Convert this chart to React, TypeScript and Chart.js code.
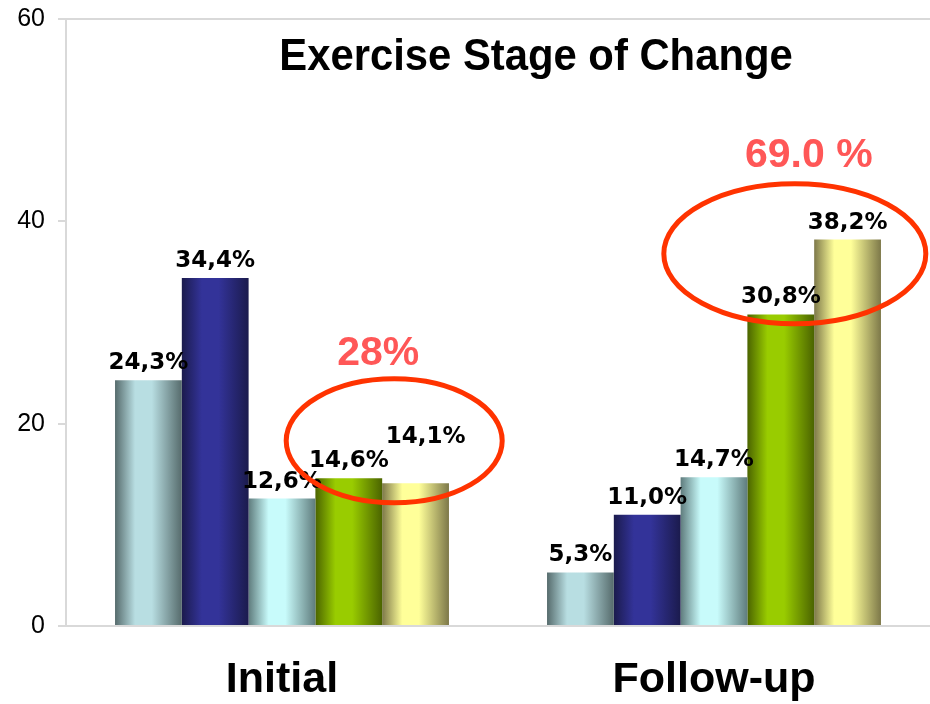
import React, { useEffect, useRef } from "react";
import { Chart, registerables } from "chart.js";

Chart.register(...registerables);

// Survey waves on the category axis
const categories = ["Initial", "Follow-up"];

// One series per stage of change (percent of respondents)
const stageNames = ["Precontemplation", "Contemplation", "Preparation", "Action", "Maintenance"];
const precontemplation = [24.3, 5.3];
const contemplation = [34.4, 11.0];
const preparation = [12.6, 14.7];
const action = [14.6, 30.8];
const maintenance = [14.1, 38.2];

// Y axis ticks
const yTicks = [0, 20, 40, 60];

// Highlighted totals (action + maintenance) written above the circled bars
const highlightTexts = ["28%", "69.0 %"];

const TITLE = "Exercise Stage of Change";

// Cylinder-like shading: [edge colour, highlight colour] for each series
const seriesShades: [string, string][] = [
  ["#566b6c", "#b8dee2"],
  ["#1b1b4d", "#333399"],
  ["#5f7c7d", "#c8fbfb"],
  ["#4b6400", "#99cc00"],
  ["#7d7849", "#ffff99"],
];

const CAT_PCT = 0.773;
const AXIS_GREY = "#d9d9d9";
const HIGHLIGHT_RED = "#ff5757";
const RING_RED = "#ff3300";

function barGradient(c: any, shade: [string, string]) {
  const chart = c.chart;
  const xs = chart.scales && chart.scales.x;
  if (c.type !== "data" || !xs || !chart.chartArea) return shade[1];
  const n = chart.data.datasets.length;
  const catW = xs.width / chart.data.labels.length;
  const bw = (catW * CAT_PCT) / n;
  const center = xs.getPixelForValue(c.dataIndex);
  const left = center - (catW * CAT_PCT) / 2 + c.datasetIndex * bw;
  const g = chart.ctx.createLinearGradient(left, 0, left + bw, 0);
  g.addColorStop(0, shade[0]);
  g.addColorStop(0.3, shade[1]);
  g.addColorStop(0.55, shade[1]);
  g.addColorStop(1, shade[0]);
  return g;
}

const fmt = (v: number) => v.toFixed(1).replace(".", ",") + "%";

// The one value label that is lifted to clear its neighbour
const liftedLabel = { dataset: 4, index: 0, dx: 10, dy: 29 };

const overlayPlugin = {
  id: "stageOverlay",
  afterDatasetsDraw(chart: any) {
    const ctx = chart.ctx;
    ctx.save();
    ctx.font = "bold 23px 'DejaVu Sans', sans-serif";
    ctx.fillStyle = "#000";
    ctx.textAlign = "center";
    ctx.textBaseline = "alphabetic";
    chart.data.datasets.forEach((ds: any, di: number) => {
      const meta = chart.getDatasetMeta(di);
      meta.data.forEach((el: any, i: number) => {
        let dx = 0;
        let dy = 0;
        if (di === liftedLabel.dataset && i === liftedLabel.index) {
          dx = liftedLabel.dx;
          dy = liftedLabel.dy;
        }
        ctx.fillText(fmt(ds.data[i]), el.x + dx, el.y - 11 - dy);
      });
    });
    ctx.restore();
  },
  afterDraw(chart: any) {
    const ctx = chart.ctx;
    const xs = chart.scales.x;
    const ys = chart.scales.y;
    const n = chart.data.datasets.length;
    const catW = xs.width / chart.data.labels.length;
    const bw = (catW * CAT_PCT) / n;

    // Title
    ctx.save();
    ctx.fillStyle = "#000";
    ctx.font = "bold 44px 'Liberation Sans', Arial, sans-serif";
    ctx.textAlign = "center";
    ctx.textBaseline = "alphabetic";
    ctx.translate(536, 70);
    ctx.scale(0.95, 1);
    ctx.fillText(TITLE, 0, 0);
    ctx.restore();

    // Rings around action + maintenance, with their totals
    const rings = [
      { cat: 0, off: 1.68, val: 18.3, rx: 108, ry: 62, textOff: 1.44, textVal: 25.8 },
      { cat: 1, off: 1.21, val: 36.8, rx: 131, ry: 70, textOff: 1.42, textVal: 45.4 },
    ];
    rings.forEach((r, k) => {
      const cx = xs.getPixelForValue(r.cat) + r.off * bw;
      const cy = ys.getPixelForValue(r.val);
      ctx.save();
      ctx.strokeStyle = RING_RED;
      ctx.lineWidth = 5;
      ctx.beginPath();
      ctx.ellipse(cx, cy, r.rx, r.ry, 0, 0, Math.PI * 2);
      ctx.stroke();
      ctx.fillStyle = HIGHLIGHT_RED;
      ctx.font = "bold 41px 'Liberation Sans', Arial, sans-serif";
      ctx.textAlign = "center";
      ctx.textBaseline = "alphabetic";
      ctx.fillText(
        highlightTexts[k],
        xs.getPixelForValue(r.cat) + r.textOff * bw,
        ys.getPixelForValue(r.textVal)
      );
      ctx.restore();
    });
  },
};

export default function App() {
  const canvasRef = useRef<HTMLCanvasElement | null>(null);

  useEffect(() => {
    const canvas = canvasRef.current;
    if (!canvas) return;
    const series = [precontemplation, contemplation, preparation, action, maintenance];
    const chart = new Chart(canvas, {
      type: "bar",
      data: {
        labels: categories,
        datasets: series.map((values, i) => ({
          label: stageNames[i],
          data: values,
          backgroundColor: (c: any) => barGradient(c, seriesShades[i]),
          borderWidth: 0,
          barPercentage: 1,
          categoryPercentage: CAT_PCT,
        })),
      },
      options: {
        responsive: false,
        animation: false,
        layout: { padding: { top: 19, right: 0, bottom: 0, left: 0 } },
        plugins: {
          legend: { display: false },
          title: { display: false },
          tooltip: { enabled: false },
        },
        scales: {
          x: {
            grid: { display: false, drawTicks: false },
            border: { display: true, color: AXIS_GREY, width: 2 },
            ticks: {
              color: "#000",
              padding: 28,
              font: { family: "'Liberation Sans', Arial, sans-serif", size: 43, weight: "bold" },
            },
            afterFit: (s: any) => {
              s.height = 78;
            },
          },
          y: {
            min: yTicks[0],
            max: yTicks[yTicks.length - 1],
            afterBuildTicks: (s: any) => {
              s.ticks = yTicks.map((v) => ({ value: v }));
            },
            grid: {
              color: (c: any) =>
                c.tick && (c.tick.value === yTicks[0] || c.tick.value === yTicks[yTicks.length - 1])
                  ? AXIS_GREY
                  : "rgba(0,0,0,0)",
              tickColor: AXIS_GREY,
              tickLength: 8,
              lineWidth: 2,
            },
            border: { display: true, color: AXIS_GREY, width: 2 },
            ticks: {
              color: "#000",
              padding: 13,
              font: { family: "'Liberation Sans', Arial, sans-serif", size: 25, lineHeight: 0.5 },
            },
            afterFit: (s: any) => {
              s.width = 66;
              s.paddingTop = 0;
              s.paddingBottom = 0;
            },
          },
        },
      },
      plugins: [overlayPlugin],
    });
    return () => chart.destroy();
  }, []);

  return (
    <div style={{ position: "fixed", left: 0, top: 0, width: 930, height: 704, background: "#fff" }}>
      <canvas ref={canvasRef} width={930} height={704} style={{ display: "block" }} />
    </div>
  );
}
